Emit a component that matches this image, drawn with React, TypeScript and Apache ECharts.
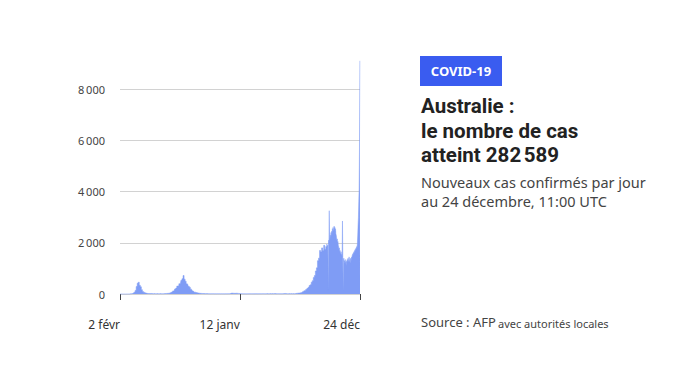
import React, { useEffect, useRef } from "react";
import * as echarts from "echarts";

// Daily new cases, Australia. Day 0 = 2 Feb 2020, day 691 = 24 Dec 2021.
const stepDays = 3;
// one value every 3 days, days 0..597
const casesEvery3Days = [
  0, 0, 1, 0, 1, 0, 1, 2, 3, 3,
  8, 12, 20, 35, 70, 140, 290, 420, 460, 340,
  280, 170, 100, 70, 45, 35, 25, 20, 18, 15,
  20, 15, 12, 18, 14, 12, 15, 10, 12, 16,
  10, 12, 14, 18, 20, 22, 25, 30, 40, 55,
  80, 120, 140, 200, 230, 310, 320, 400, 420, 540,
  600, 720, 580, 500, 400, 380, 300, 260, 190, 170,
  115, 90, 70, 55, 45, 35, 30, 25, 22, 20,
  18, 15, 14, 16, 12, 13, 10, 12, 11, 14,
  10, 12, 9, 11, 10, 13, 9, 11, 8, 10,
  9, 12, 10, 11, 14, 13, 25, 35, 30, 28,
  25, 30, 28, 24, 20, 15, 12, 10, 9, 8,
  7, 6, 8, 9, 12, 10, 9, 8, 10, 9,
  11, 10, 9, 11, 12, 10, 13, 14, 12, 11,
  13, 15, 12, 14, 16, 13, 15, 14, 18, 15,
  12, 14, 13, 11, 12, 10, 14, 18, 22, 16,
  14, 12, 15, 14, 16, 13, 15, 14, 18, 25,
  30, 35, 40, 50, 60, 80, 100, 130, 150, 190,
  220, 260, 330, 360, 460, 520, 640, 720, 900, 1020,
  1300, 1400, 1700, 1650, 1800, 1700, 1900, 1750, 1850, 1950,
];
// daily values, days 598..691
const dailyStart = 598;
const casesDaily = [
  1850, 1900, 150, 2100, 1950, 3250, 2050, 2200, 2300, 2150,
  2400, 2250, 2450, 2350, 2550, 2400, 2600, 2450, 2500, 2650,
  2550, 2600, 2400, 2550, 2350, 2300, 2200, 2100, 2150, 2000,
  2050, 1900, 1850, 1750, 1800, 1650, 1700, 1600, 1550, 1650,
  1500, 1550, 1450, 2850, 1500, 100, 1350, 1400, 1250, 1300,
  1200, 1350, 1150, 1250, 1100, 1300, 1200, 1350, 1250, 1400,
  1300, 1250, 1450, 1350, 1300, 1200, 1350, 1400, 1300, 1450,
  1350, 1500, 1550, 1450, 1600, 1550, 1650, 1600, 1700, 1650,
  1750, 1700, 1800, 1750, 1850, 1800, 2000, 2300, 2700, 3000,
  3600, 4100, 5700, 9100,
];

const xTickDays = [0, 345, 691];
const xTickLabels = ["2 févr", "12 janv", "24 déc"];
const yMax = 8000;
const yInterval = 2000;

const badgeText = "COVID-19";
const titleLines = ["Australie :", "le nombre de cas", "atteint 282\u202F589"];
const subtitleLines = ["Nouveaux cas confirmés par jour", "au 24 décembre, 11:00 UTC"];
const sourceMain = "Source : AFP";
const sourceExtra = "avec autorités locales";

const FONT = '"Noto Sans", "Open Sans", sans-serif';
const TITLE_FONT = 'Roboto, "Noto Sans", sans-serif';
const barColor = "#7f9cf5";
const badgeColor = "#3a5cf0";

export default function App() {
  const ref = useRef<HTMLDivElement>(null);
  useEffect(() => {
    if (!ref.current) return;
    const chart = echarts.init(ref.current, null, { renderer: "svg" });
    const points = [
      ...casesEvery3Days.map((v, i) => [i * stepDays, v]),
      ...casesDaily.map((v, i) => [dailyStart + i, v]),
    ];
    const fmt = (v: number) =>
      v >= 1000
        ? `${Math.floor(v / 1000)}\u202F${String(v % 1000).padStart(3, "0")}`
        : String(v);

    chart.setOption({
      animation: false,
      backgroundColor: "#ffffff",
      grid: { left: 120, top: 89, width: 240, height: 205 },
      xAxis: {
        type: "value",
        min: 0,
        max: 691,
        splitLine: { show: false },
        axisLine: { show: false },
        axisTick: {
          show: true,
          customValues: xTickDays,
          length: 6,
          lineStyle: { color: "#444", width: 1 },
        },
        axisLabel: {
          customValues: xTickDays,
          formatter: (v: number) => {
            const i = xTickDays.indexOf(Math.round(v));
            return i >= 0 ? xTickLabels[i] : "";
          },
          align: "right",
          margin: 24,
          fontSize: 12,
          color: "#333",
          fontFamily: FONT,
        },
      },
      yAxis: {
        type: "value",
        min: 0,
        max: yMax,
        interval: yInterval,
        axisLine: { show: false },
        axisTick: { show: false },
        splitLine: { lineStyle: { color: "#d2d2d2", width: 1 } },
        axisLabel: {
          formatter: fmt,
          margin: 15,
          fontSize: 11,
          color: "#444",
          fontFamily: FONT,
        },
      },
      series: [
        {
          type: "line",
          data: points,
          step: "middle",
          showSymbol: false,
          clip: false,
          silent: true,
          lineStyle: { width: 0.5, color: barColor },
          areaStyle: { color: barColor, opacity: 1 },
        },
      ],
      graphic: [
        {
          type: "rect",
          shape: { x: 420, y: 56, width: 82, height: 30 },
          style: { fill: badgeColor },
        },
        {
          type: "text",
          style: {
            text: badgeText,
            x: 461,
            y: 71,
            textAlign: "center",
            textVerticalAlign: "middle",
            font: `bold 13px ${FONT}`,
            fill: "#ffffff",
          },
        },
        {
          type: "text",
          style: {
            text: titleLines.join("\n"),
            x: 421,
            y: 93.75,
            textAlign: "left",
            textVerticalAlign: "top",
            font: `bold 20.5px ${TITLE_FONT}`,
            lineHeight: 24.5,
            fill: "#222222",
          },
        },
        {
          type: "text",
          style: {
            text: subtitleLines.join("\n"),
            x: 421,
            y: 172.5,
            textAlign: "left",
            textVerticalAlign: "top",
            font: `14.5px ${FONT}`,
            lineHeight: 19,
            fill: "#444444",
          },
        },
        {
          type: "text",
          style: {
            text: sourceMain,
            x: 421,
            y: 322,
            textAlign: "left",
            textVerticalAlign: "middle",
            font: `13px ${FONT}`,
            fill: "#444444",
          },
        },
        {
          type: "text",
          style: {
            text: sourceExtra,
            x: 498,
            y: 323,
            textAlign: "left",
            textVerticalAlign: "middle",
            font: `11px ${FONT}`,
            fill: "#444444",
          },
        },
      ],
    });
    return () => chart.dispose();
  }, []);
  return (
    <div
      ref={ref}
      style={{ position: "absolute", left: 0, top: 0, width: 694, height: 386 }}
    />
  );
}
